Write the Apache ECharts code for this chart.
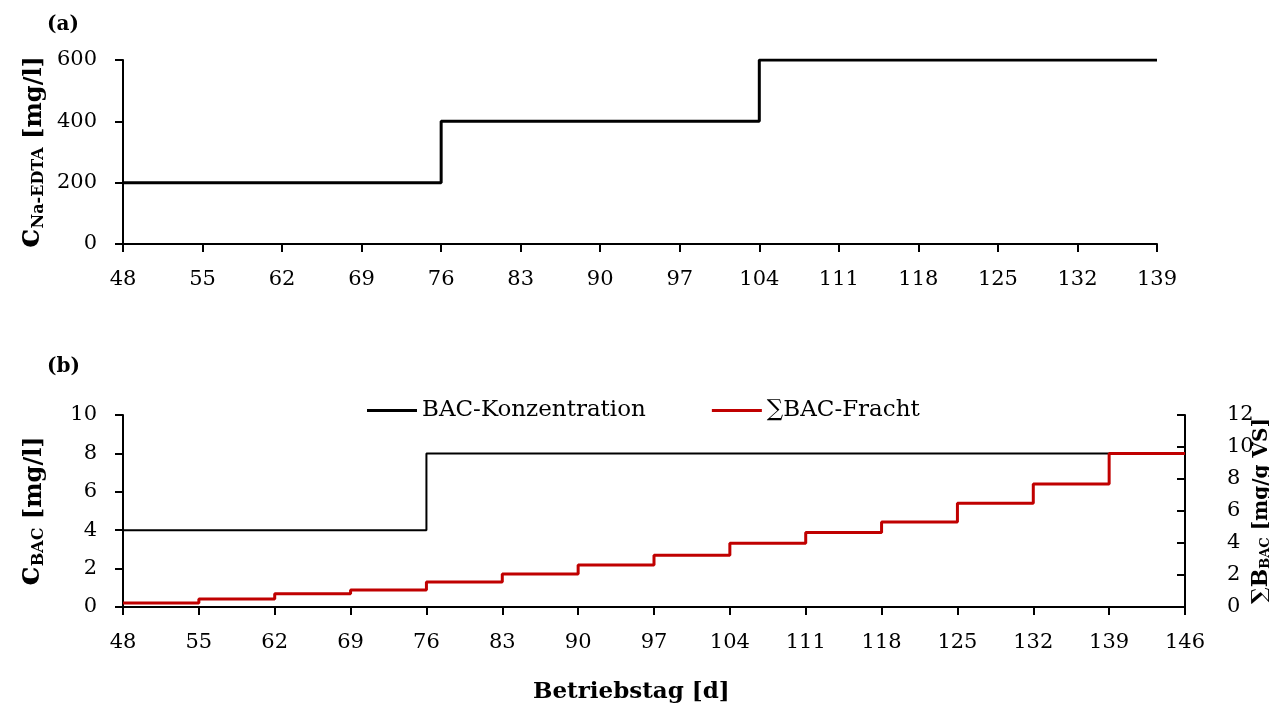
<!DOCTYPE html>
<html><head><meta charset="utf-8">
<script src="https://cdn.jsdelivr.net/npm/echarts@6/dist/echarts.min.js"></script>
<style>html,body{margin:0;padding:0;background:#fff}#c{width:1269px;height:711px}</style>
</head><body><div id="c"></div>
<script>
// ---- data ----
const ticksA = [48,55,62,69,76,83,90,97,104,111,118,125,132,139];
const ticksB = [48,55,62,69,76,83,90,97,104,111,118,125,132,139,146];
// (a) Na-EDTA concentration steps [day, mg/l]
const edtaDays = [48, 76, 104, 139];
const edtaConc = [200, 400, 600, 600];
// (b) BAC concentration steps [day, mg/l]
const bacDays = [48, 76, 146];
const bacConc = [4, 8, 8];
// (b) cumulative BAC load [day, mg/g VS]
const loadDays = [48,55,62,69,76,83,90,97,104,111,118,125,132,139,146];
const loadVals = [0.25,0.5,0.83,1.06,1.56,2.06,2.63,3.23,3.98,4.65,5.31,6.48,7.68,9.6,9.6];

const FONT = 'DejaVu Serif';
const zip = (a,b)=>a.map((x,i)=>[x,b[i]]);
const axisLine = {show:true, lineStyle:{color:'#000', width:2}};
const tickStyle = {show:true, length:8, lineStyle:{color:'#000', width:2}};
const lbl = {color:'#000', fontFamily:FONT, fontSize:21};
const rich = (cs, ss, us)=>({
  c:{fontFamily:FONT, fontWeight:'bold', fontSize:cs, color:'#000', verticalAlign:'bottom', lineHeight:30},
  s:{fontFamily:FONT, fontWeight:'bold', fontSize:ss, color:'#000', verticalAlign:'bottom', lineHeight:24},
  u:{fontFamily:FONT, fontWeight:'bold', fontSize:us, color:'#000', verticalAlign:'bottom', lineHeight:30}
});

const chart = echarts.init(document.getElementById('c'));
chart.setOption({
  animation:false,
  textStyle:{fontFamily:FONT},
  graphic:[
    {type:'text', left:47, top:15, style:{text:'(a)', font:'bold 20px "DejaVu Serif"', fill:'#000'}},
    {type:'text', left:47, top:357, style:{text:'(b)', font:'bold 20px "DejaVu Serif"', fill:'#000'}},
    {type:'text', left:533, top:681, style:{text:'Betriebstag [d]', font:'bold 23px "DejaVu Serif"', fill:'#000'}}
  ],
  legend:{
    data:['BAC-Konzentration','∑BAC-Fracht'],
    top:394, left:362, itemGap:66, itemWidth:50, itemHeight:3, icon:'rect',
    textStyle:{color:'#000', fontFamily:FONT, fontSize:23, padding:[0,0,0,0]}
  },
  grid:[
    {left:123, right:112, top:60, height:184, containLabel:false, outerBoundsMode:'none'},
    {left:123, right:84, top:415, height:192, containLabel:false, outerBoundsMode:'none'}
  ],
  xAxis:[
    {type:'value', gridIndex:0, min:48, max:139, axisLine, axisTick:{...tickStyle, customValues:ticksA},
     axisLabel:{...lbl, margin:25, customValues:ticksA}, splitLine:{show:false}},
    {type:'value', gridIndex:1, min:48, max:146, axisLine, axisTick:{...tickStyle, customValues:ticksB},
     axisLabel:{...lbl, margin:25, customValues:ticksB}, splitLine:{show:false}}
  ],
  yAxis:[
    {type:'value', gridIndex:0, min:0, max:600, interval:200, axisLine, axisTick:tickStyle,
     axisLabel:{...lbl, margin:26}, splitLine:{show:false},
     name:'{c|c}{s|Na-EDTA}{u| [mg/l]}', nameLocation:'middle', nameRotate:90, nameGap:76, nameMoveOverlap:false,
     nameTextStyle:{rich:rich(32,16,24)}},
    {type:'value', gridIndex:1, min:0, max:10, interval:2, axisLine, axisTick:tickStyle,
     axisLabel:{...lbl, margin:26}, splitLine:{show:false},
     name:'{c|c}{s|BAC}{u| [mg/l]}', nameLocation:'middle', nameRotate:90, nameGap:76, nameMoveOverlap:false,
     nameTextStyle:{rich:rich(32,16,24)}},
    {type:'value', gridIndex:1, position:'right', min:0, max:12, interval:2, axisLine,
     axisTick:{...tickStyle, inside:true}, axisLabel:{...lbl, inside:false, margin:25, padding:[0,0,0,17]}, splitLine:{show:false},
     name:'{c|∑B}{s|BAC}{u| [mg/g VS]}', nameLocation:'middle', nameRotate:90, nameGap:57, nameMoveOverlap:false,
     nameTextStyle:{rich:rich(22,13,20)}}
  ],
  series:[
    {name:'Na-EDTA', type:'line', xAxisIndex:0, yAxisIndex:0, step:'end', showSymbol:false,
     data:zip(edtaDays, edtaConc), lineStyle:{color:'#000', width:3}, itemStyle:{color:'#000'}},
    {name:'BAC-Konzentration', type:'line', xAxisIndex:1, yAxisIndex:1, step:'end', showSymbol:false,
     data:zip(bacDays, bacConc), lineStyle:{color:'#000', width:2}, itemStyle:{color:'#000'}},
    {name:'∑BAC-Fracht', type:'line', xAxisIndex:1, yAxisIndex:2, step:'end', showSymbol:false,
     data:zip(loadDays, loadVals), lineStyle:{color:'#C00000', width:3}, itemStyle:{color:'#C00000'}}
  ]
});
</script></body></html>
